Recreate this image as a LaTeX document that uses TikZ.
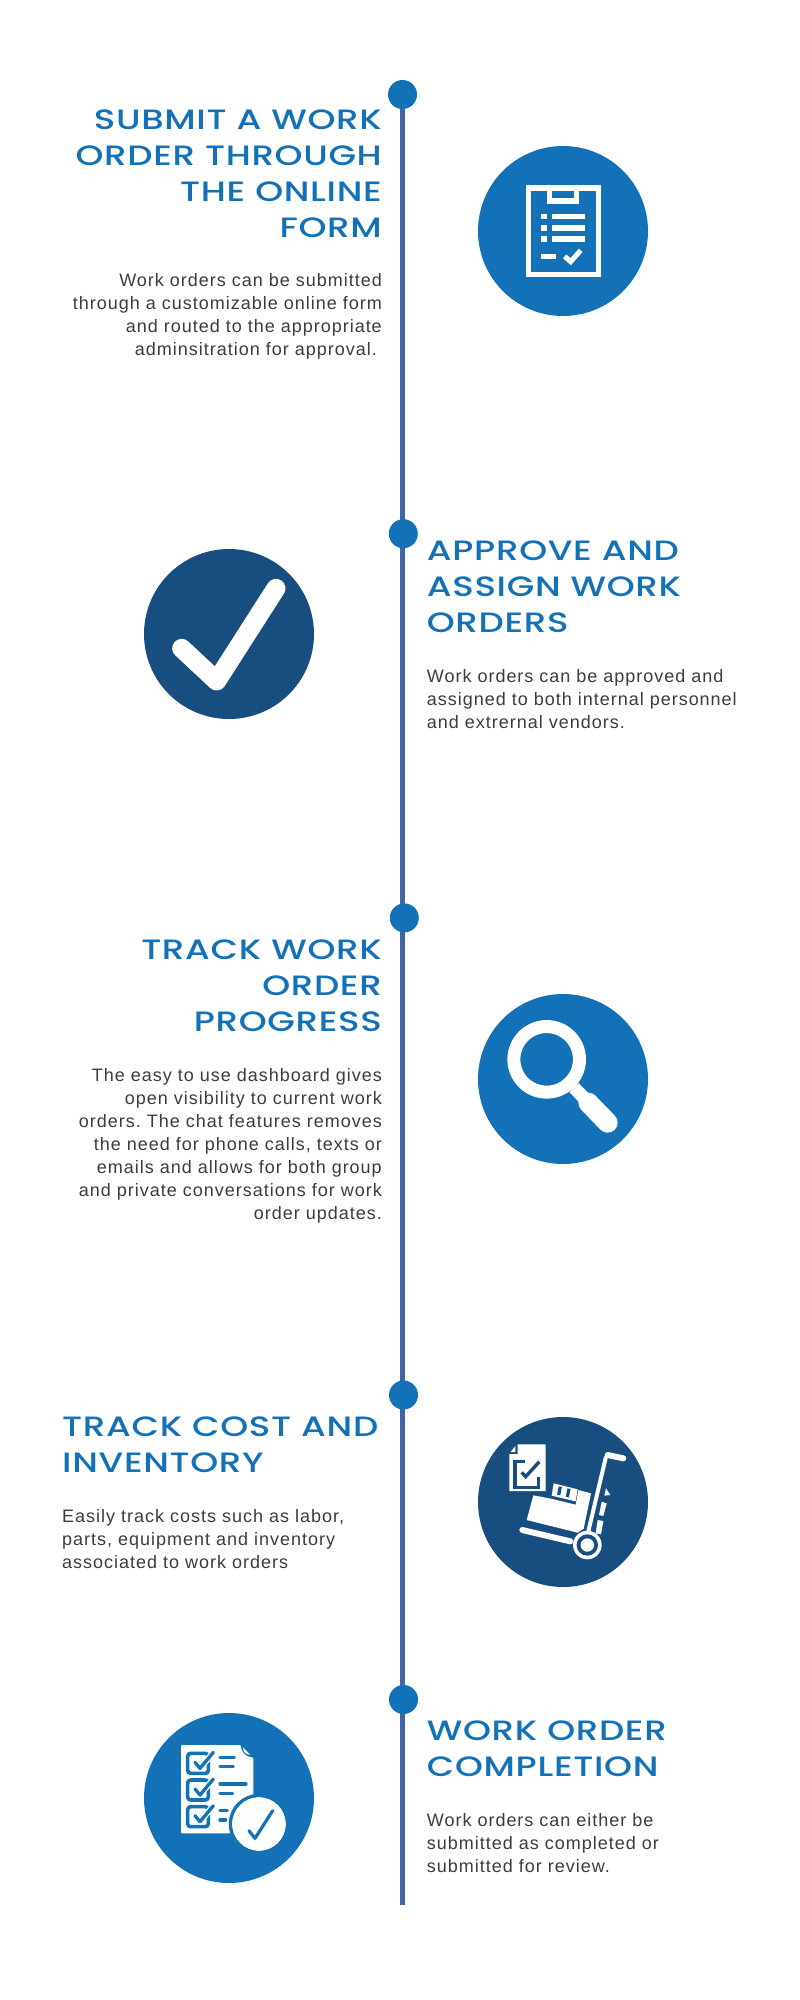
\documentclass[tikz,border=0pt]{standalone}
\usepackage{fontspec}
\setmainfont{Liberation Sans}
\newfontfamily\headfont[FakeStretch=1.27,LetterSpace=2.5]{Poppins Medium}
\newfontfamily\copyfont[LetterSpace=5.5]{Liberation Sans}
\usetikzlibrary{backgrounds}
\definecolor{stepblue}{HTML}{1371B8}
\definecolor{stepdark}{HTML}{184E7F}
\definecolor{spineblue}{HTML}{3E66A5}
\definecolor{copygrey}{HTML}{3C3C40}
\begin{document}
\begin{tikzpicture}[x=1pt, y=-1pt, line join=round,
	dot/.style={circle, fill=stepblue, minimum size=29pt, inner sep=0},
	disc/.style={circle, minimum size=170pt, inner sep=0},
	head/.style={inner sep=0, text=stepblue, font=\headfont\fontsize{28}{36}\selectfont},
	copy/.style={inner sep=0, text=copygrey, font=\copyfont\fontsize{18}{23}\selectfont\frenchspacing},
	icon/.style={shift={(#1)}, x=.33333pt, y=-.33333pt}]
	\useasboundingbox (0,0) rectangle (800,2000);
	\foreach \d/\a/\b in {dotA/402.5/94.5, dotB/403.3/533.7, dotC/404.3/917.9, dotD/403.5/1395, dotE/403.5/1699.5}
	\node[dot] (\d) at (\a,\b) {};
	\coordinate (spineEnd) at (402.5,1905);
	\begin{scope}[on background layer]
		\draw[spineblue, line width=5pt] (dotA.center)--(spineEnd);
	\end{scope}
	\foreach \d/\c/\a/\b in {discA/stepblue/563/231, discB/stepdark/229/634, discC/stepblue/563/1079, discD/stepdark/563/1502, discE/stepblue/229/1798}
	\node[disc, fill=\c] (\d) at (\a,\b) {};
	% titles
	\node[head, align=right, anchor=base east] (headA) at (382,237) {SUBMIT A WORK\\ORDER THROUGH\\THE ONLINE\\FORM};
	\node[head, align=left, anchor=base west] (headB) at (426.7,632.7) {APPROVE AND\\ASSIGN WORK\\ORDERS};
	\node[head, align=right, anchor=base east] (headC) at (382,1031.7) {TRACK WORK\\ORDER\\PROGRESS};
	\node[head, align=left, anchor=base west] (headD) at (62,1472.6) {TRACK COST AND\\INVENTORY};
	\node[head, align=left, anchor=base west] (headE) at (426.7,1776.4) {WORK ORDER\\COMPLETION};
	% body texts
	\node[copy, align=right, anchor=base east] (copyA) at (382,355) {Work orders can be submitted\\through a customizable online form\\and routed to the appropriate\\adminsitration for approval.\hspace*{5pt}};
	\node[copy, align=left, anchor=base west] (copyB) at (426.7,728) {Work orders can be approved and\\assigned to both internal personnel\\and extrernal vendors.};
	\node[copy, align=right, anchor=base east] (copyC) at (382,1219.3) {The easy to use dashboard gives\\open visibility to current work\\orders. The chat features removes\\the need for phone calls, texts or\\emails and allows for both group\\and private conversations for work\\order updates.};
	\node[copy, align=left, anchor=base west] (copyD) at (62,1568.6) {Easily track costs such as labor,\\parts, equipment and inventory\\associated to work orders};
	\node[copy, align=left, anchor=base west] (copyE) at (426.7,1872.4) {Work orders can either be\\submitted as completed or\\submitted for review.};
	% clipboard
	\begin{scope}[icon={450,130}]
		\draw[white, line width=5.5pt, line join=miter] (235,174) rectangle (445,434);
		\fill[white] (291,166) rectangle (388,221);
		\fill[stepblue] (307,184) rectangle (372,205);
		\foreach \b in {251,285,319}{
			\fill[white] (274,\b) rectangle (291,\b+17);
			\fill[white] (306,\b) rectangle (406,\b+17);
		}
		\fill[white] (274,372) rectangle (318,388);
		\draw[white, line width=5pt, line join=miter] (344,379)--(362,395)--(392,361);
	\end{scope}
	% check
	\begin{scope}[icon={120,520}]
		\draw[white, line width=19pt, line cap=round] (185,385)--(290,483)--(468,205);
	\end{scope}
	% magnifier
	\begin{scope}[icon={450,970}]
		\draw[white, line width=13pt] (290,268) circle (32.8pt);
		\draw[white, line width=13pt] (372,353)--(410,392);
		\draw[white, line width=20pt, line cap=round] (415,398)--(473,458);
	\end{scope}
	% trolley
	\begin{scope}[icon={505,1440}]
		\fill[white] (38,13)--(122,13)--(122,153)--(13,153)--(13,42)--(38,42)--cycle;
		\fill[white] (17,36)--(31,36)--(31,18)--cycle;
		\draw[stepdark, line width=3.4pt, line join=miter] (60,65)--(30,65)--(30,143)--(100,143)--(100,110);
		\draw[stepdark, line width=3.4pt, line join=miter] (50,97)--(62,110)--(103,65);
		\fill[white] (85,166)--(65,240)--(218,278)--(236,266)--(258,160)--(220,150)--(212,194)--(138,176)--cycle;
		\fill[white] (146,130)--(218,148)--(212,184)--(140,167)--cycle;
		\draw[stepdark, line width=3.2pt] (166,140)--(161,165) (192,146)--(187,171);
		\draw[white, line width=6pt, line cap=round] (52,270)--(196,304);
		\draw[white, line width=4pt] (303,50)--(245,295);
		\draw[white, line width=6pt, line cap=round] (308,45)--(355,55);
		\fill[white] (303,145)--(316,165)--(298,167)--cycle;
		\fill[white] (290,185)--(305,190)--(295,228)--(282,225)--cycle;
		\fill[white] (278,240)--(295,243)--(288,283)--(272,280)--cycle;
		\fill[white] (247,315) circle (14.3pt);
		\fill[stepdark] (247,315) circle (10.7pt);
		\fill[white] (247,315) circle (6.7pt);
	\end{scope}
	% checklist
	\begin{scope}[icon={175,1740}]
		\fill[white, rounded corners=1pt] (18,15)--(197,15)..controls (200,40) and (215,52) ..(235,52)--(235,280)--(18,280)--cycle;
		\fill[white] (204,22)--(226,44)..controls (215,44) and (204,38) ..(204,22)--cycle;
		\foreach \b in {0,80,160}{
			\draw[stepblue, line width=3.6pt, rounded corners=3pt] (38,40+\b) rectangle (100,100+\b);
			\draw[white, line width=6pt] (60,67+\b)--(75,85+\b)--(115,37+\b);
			\draw[stepblue, line width=3.3pt, line cap=round] (60,67+\b)--(75,85+\b)--(115,37+\b);
		}
		\draw[stepblue, line width=3.3pt, line cap=round] (135,52)--(178,52) (135,80)--(175,80) (135,132)--(213,132) (135,160)--(173,160) (135,212)--(157,212) (135,240)--(152,240);
		\fill[white] (252,252) circle (27pt);
		\draw[stepblue, line width=3.3pt] (252,252) circle (28.6pt);
		\draw[stepblue, line width=3.2pt, line cap=round] (222,272)--(240,295)--(293,212);
	\end{scope}
\end{tikzpicture}
\end{document}
